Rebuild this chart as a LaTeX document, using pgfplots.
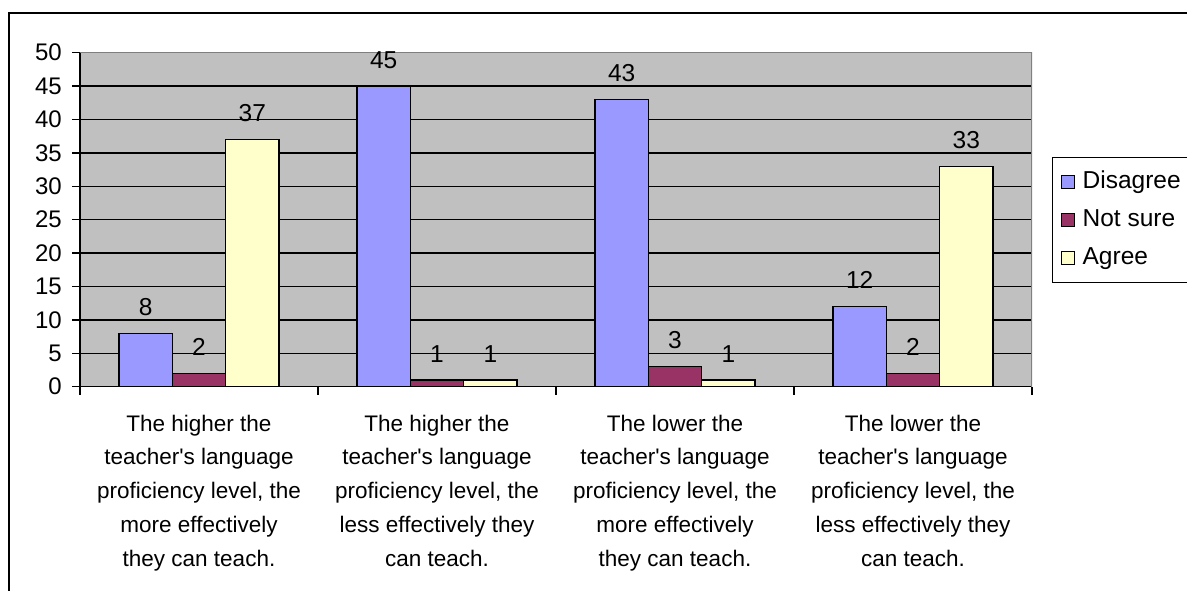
\documentclass[border=0pt]{standalone}
\usepackage{pgfplots}
\pgfplotsset{compat=1.18}
\usepackage{fontspec}
\setmainfont{Liberation Sans}[Ligatures=TeXOff]
\definecolor{cDis}{HTML}{9999FF}
\definecolor{cNs}{HTML}{993366}
\definecolor{cAg}{HTML}{FFFFCC}
\definecolor{plotgray}{HTML}{C0C0C0}
\definecolor{bordergray}{HTML}{808080}
\begin{document}
\begin{tikzpicture}
\useasboundingbox (0,0) rectangle (1187pt,591pt);
\fill[white] (0,0) rectangle (1187pt,591pt);
\draw[line width=2pt] (8.5pt,-5pt) -- (8.5pt,578pt) -- (1195pt,578pt);
\begin{axis}[
  at={(80pt,204.3pt)}, anchor=south west,
  width=952pt, height=334pt, scale only axis,
  xmin=-0.5, xmax=3.5, ymin=0, ymax=50,
  axis x line*=bottom, axis y line*=left,
  axis line style={line width=1.4pt, black},
  axis background/.style={fill=plotgray},
  ytick={0,5,...,50},
  ymajorgrids, major grid style={black, line width=1.3pt},
  xtick={-0.5,0.5,1.5,2.5,3.5},
  x tick label as interval,
  xticklabels={{The higher the\\teacher's language\\proficiency level, the\\more effectively\\they can teach.},
               {The higher the\\teacher's language\\proficiency level, the\\less effectively they\\can teach.},
               {The lower the\\teacher's language\\proficiency level, the\\more effectively\\they can teach.},
               {The lower the\\teacher's language\\proficiency level, the\\less effectively they\\can teach.}},
  tick align=outside, major tick length=8pt,
  tick style={black, line width=1.3pt},
  /pgf/number format/assume math mode=true,
  yticklabel style={font=\fontsize{24}{28}\selectfont, inner sep=0pt, anchor=east, xshift=-10pt},
  xticklabel style={font=\fontsize{22.5}{33.7}\selectfont, align=center, inner sep=0pt, anchor=north, yshift=-20pt},
  ybar, bar width=0.224,
  every axis plot/.append style={draw=black, line width=1.3pt},
  nodes near coords,
  nodes near coords style={font=\fontsize{24.5}{28}\selectfont, anchor=base, inner sep=0pt, yshift=18pt, /pgf/number format/assume math mode=true},
  legend style={at={(1.021,0.688)}, anchor=north west, draw=black, line width=1.3pt, fill=white,
    font=\fontsize{24.5}{28}\selectfont, inner xsep=8pt, inner ysep=12pt, row sep=13pt, column sep=7pt,
    nodes={text height=18pt, text depth=5pt, inner sep=1pt}},
  legend cell align=left,
  legend image code/.code={\draw[#1,draw=black,line width=1pt] (0pt,-6.5pt) rectangle (13pt,6.5pt);},
]
\addplot[fill=cDis, bar shift=-0.224] coordinates {(0,8) (1,45) (2,43) (3,12)};
\addplot[fill=cNs, bar shift=0] coordinates {(0,2) (1,1) (2,3) (3,2)};
\addplot[fill=cAg, bar shift=0.224] coordinates {(0,37) (1,1) (2,1) (3,33)};
\legend{Disagree,Not sure,Agree}
\draw[bordergray, line width=1.3pt] (rel axis cs:0,1) -- (rel axis cs:1,1) -- (rel axis cs:1,0);
\end{axis}
\end{tikzpicture}
\end{document}
